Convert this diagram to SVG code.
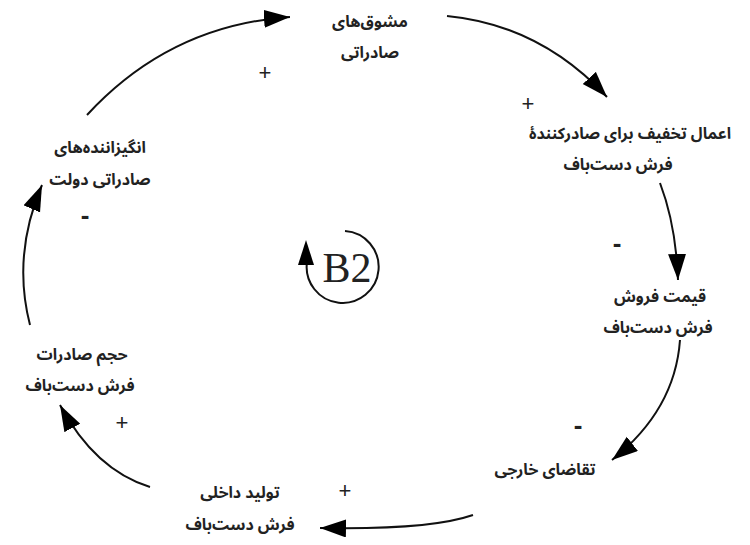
<svg xmlns="http://www.w3.org/2000/svg" width="750" height="545" viewBox="0 0 750 545">
<style>
.lbl{font-family:"Noto Sans Arabic","Noto Sans","DejaVu Sans",sans-serif;font-size:16px;font-weight:bold;fill:#222;text-anchor:middle;direction:rtl}
.sign{font-family:"Liberation Sans",sans-serif;font-size:22px;fill:#222;text-anchor:middle}
.minus{font-family:"Liberation Sans",sans-serif;font-size:26px;font-weight:bold;fill:#222;text-anchor:middle}
.ln{fill:none;stroke:#111;stroke-width:2}
</style>
<defs>
<marker id="ah" markerUnits="userSpaceOnUse" markerWidth="30" markerHeight="20" refX="26" refY="9" orient="auto">
<path d="M0,0 L26,9 L0,18 Z" fill="#000"/>
</marker>
</defs>
<rect width="750" height="545" fill="#fff"/>
<g id="connectors">
<path class="ln" d="M87,115 Q170,25 290,17" marker-end="url(#ah)"/>
<path class="ln" d="M447,16 Q540,25 607,97" marker-end="url(#ah)"/>
<path class="ln" d="M660,183 Q676,225 678,280" marker-end="url(#ah)"/>
<path class="ln" d="M680,340 Q675,410 612,460" marker-end="url(#ah)"/>
<path class="ln" d="M473,515 Q430,530 320,528" marker-end="url(#ah)"/>
<path class="ln" d="M150,487 Q95,470 60,405" marker-end="url(#ah)"/>
<path class="ln" d="M30,325 Q12,255 42,185" marker-end="url(#ah)"/>
</g>
<g id="n1"><text class="lbl" x="370" y="27">مشوق‌های</text><text class="lbl" x="370" y="58">صادراتی</text></g>
<g id="n2"><text class="lbl" x="630" y="139">اعمال تخفیف برای صادرکنندهٔ</text><text class="lbl" x="618" y="170">فرش دست‌باف</text></g>
<g id="n3"><text class="lbl" x="660" y="302">قیمت فروش</text><text class="lbl" x="658" y="333">فرش دست‌باف</text></g>
<g id="n4"><text class="lbl" x="545" y="475">تقاضای خارجی</text></g>
<g id="n5"><text class="lbl" x="240" y="498">تولید داخلی</text><text class="lbl" x="240" y="530">فرش دست‌باف</text></g>
<g id="n6"><text class="lbl" x="82" y="360">حجم صادرات</text><text class="lbl" x="80" y="391">فرش دست‌باف</text></g>
<g id="n7"><text class="lbl" x="100" y="153">انگیزاننده‌های</text><text class="lbl" x="100" y="185">صادراتی دولت</text></g>
<g id="signs">
<text class="sign" x="265" y="80">+</text>
<text class="sign" x="528" y="111">+</text>
<text class="minus" x="617" y="252">-</text>
<text class="minus" x="578" y="434">-</text>
<text class="sign" x="345" y="498">+</text>
<text class="sign" x="122" y="430">+</text>
<text class="minus" x="85" y="224">-</text>
</g>
<g id="loop">
<path class="ln" d="M345,231 A36,36 0 1 1 307,262" stroke-width="1.5"/>
<path d="M306,240 L298,265 L314,265 Z" fill="#000"/>
<text x="347" y="282" font-family="Liberation Serif,serif" font-size="42" fill="#222" text-anchor="middle">B2</text>
</g>
</svg>
